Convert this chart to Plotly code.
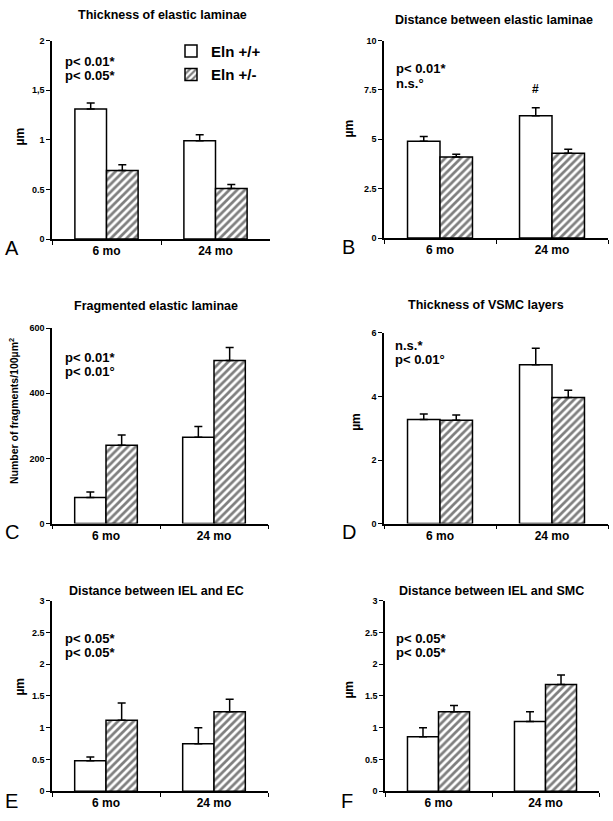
import plotly.graph_objects as go

W, H = 613, 821

categories = ["6 mo", "24 mo"]
series_names = ["Eln +/+", "Eln +/-"]

titles = ["Thickness of elastic laminae", "Distance between elastic laminae",
          "Fragmented elastic laminae", "Thickness of VSMC layers",
          "Distance between IEL and EC", "Distance between IEL and SMC"]
letters = ["A", "B", "C", "D", "E", "F"]
ytitles = ["µm", "µm", "Number of fragments/100µm<sup>2</sup>", "µm", "µm", "µm"]

# values [6 mo, 24 mo]
wt_A = [1.31, 0.99];  het_A = [0.69, 0.51]
wt_A_err = [0.06, 0.06];  het_A_err = [0.06, 0.04]
wt_B = [4.9, 6.2];  het_B = [4.1, 4.3]
wt_B_err = [0.25, 0.4];  het_B_err = [0.15, 0.2]
wt_C = [80, 265];  het_C = [240, 500]
wt_C_err = [17, 33];  het_C_err = [32, 40]
wt_D = [3.28, 5.0];  het_D = [3.25, 3.97]
wt_D_err = [0.17, 0.52];  het_D_err = [0.17, 0.23]
wt_E = [0.48, 0.75];  het_E = [1.12, 1.25]
wt_E_err = [0.06, 0.25];  het_E_err = [0.27, 0.2]
wt_F = [0.86, 1.1];  het_F = [1.25, 1.68]
wt_F_err = [0.14, 0.15];  het_F_err = [0.1, 0.15]

pvals = [("p< 0.01*", "p< 0.05*"), ("p< 0.01*", "n.s.°"), ("p< 0.01*", "p< 0.01°"),
         ("n.s.*", "p< 0.01°"), ("p< 0.05*", "p< 0.05*"), ("p< 0.05*", "p< 0.05*")]

yranges = [2, 10, 600, 6, 3, 3]
ytickvals = [[0, 0.5, 1, 1.5, 2], [0, 2.5, 5, 7.5, 10], [0, 200, 400, 600], [0, 2, 4, 6],
             [0, 0.5, 1, 1.5, 2, 2.5, 3], [0, 0.5, 1, 1.5, 2, 2.5, 3]]
yticktext = [["0", "0.5", "1", "1,5", "2"], ["0", "2.5", "5", "7.5", "10"],
             ["0", "200", "400", "600"], ["0", "2", "4", "6"],
             ["0", "0.5", "1", "1.5", "2", "2.5", "3"], ["0", "0.5", "1", "1.5", "2", "2.5", "3"]]

wt = [wt_A, wt_B, wt_C, wt_D, wt_E, wt_F]
het = [het_A, het_B, het_C, het_D, het_E, het_F]
wt_err = [wt_A_err, wt_B_err, wt_C_err, wt_D_err, wt_E_err, wt_F_err]
het_err = [het_A_err, het_B_err, het_C_err, het_D_err, het_E_err, het_F_err]

# layout in pixels: (x0, x1, ytop, ybottom)
boxes = [(52, 270, 36, 237), (384, 608, 36, 236), (52, 268, 327, 525),
         (384, 608, 332, 525), (52, 268, 603, 796), (385, 599, 603, 796)]
title_pos = [(162, 10), (494, 15), (156, 305), (486, 304), (156, 593), (491, 593)]
letter_pos = [(12, 246), (348, 245), (12, 533), (349, 533), (12, 806), (347, 806)]
ytitle_pos = [(20, 133), (349, 125), (14, 411), (356, 422), (20, 690), (349, 693)]
p_pos = [(63, 57, 71), (394, 64, 79), (63, 357, 371), (393, 345, 359), (63, 641, 655), (394, 641, 655)]

FONT = "Liberation Sans, Arial, sans-serif"

def px(x):
    return x / W

def py(y):
    return 1 - y / H

fig = go.Figure()
annotations = []
BARGAP = 0.42

for i in range(6):
    sfx = "" if i == 0 else str(i + 1)
    xa, ya = "x" + sfx, "y" + sfx
    fig.add_trace(go.Bar(
        x=categories, y=wt[i], name=series_names[0], xaxis=xa, yaxis=ya,
        marker=dict(color="white", line=dict(color="black", width=1.5)),
        error_y=dict(type="data", array=wt_err[i], arrayminus=[0, 0], symmetric=False,
                     color="black", thickness=1.5, width=4),
        showlegend=(i == 0), legendgroup="wt"))
    fig.add_trace(go.Bar(
        x=categories, y=het[i], name=series_names[1], xaxis=xa, yaxis=ya,
        marker=dict(color="white", line=dict(color="black", width=1.5),
                    pattern=dict(shape="/", fgcolor="black", bgcolor="white",
                                 size=5.5, solidity=0.5)),
        error_y=dict(type="data", array=het_err[i], arrayminus=[0, 0], symmetric=False,
                     color="black", thickness=1.5, width=4),
        showlegend=(i == 0), legendgroup="het"))

    x0, x1, yt, yb = boxes[i]
    fig.update_layout(**{
        "xaxis" + sfx: dict(domain=[px(x0), px(x1)], anchor=ya, type="category",
                            range=[-0.5, 1.5], showline=True, linecolor="black", linewidth=1.5,
                            ticks="outside", tickson="boundaries", ticklen=4,
                            tickcolor="black", showgrid=False,
                            tickfont=dict(family=FONT, size=12, color="black", weight="bold")),
        "yaxis" + sfx: dict(domain=[py(yb), py(yt)], anchor=xa, range=[0, yranges[i]],
                            showline=True, linecolor="black", linewidth=1.5,
                            ticks="outside", ticklen=4, tickcolor="black",
                            tickvals=ytickvals[i], ticktext=yticktext[i],
                            showgrid=False, zeroline=False,
                            tickfont=dict(family=FONT, size=9, color="black", weight="bold")),
    })

    tx, ty = title_pos[i]
    annotations.append(dict(text=titles[i], x=px(tx), y=py(ty), xref="paper", yref="paper",
                            showarrow=False, xanchor="center", yanchor="middle",
                            font=dict(family=FONT, size=12.5, color="black", weight="bold")))
    lx, ly = letter_pos[i]
    annotations.append(dict(text=letters[i], x=px(lx), y=py(ly), xref="paper", yref="paper",
                            showarrow=False, xanchor="center", yanchor="middle",
                            font=dict(family=FONT, size=20, color="black")))
    yx, yy = ytitle_pos[i]
    annotations.append(dict(text=ytitles[i], x=px(yx), y=py(yy), xref="paper", yref="paper",
                            showarrow=False, xanchor="center", yanchor="middle", textangle=-90,
                            font=dict(family=FONT, size=12 if i != 2 else 10.5,
                                      color="black", weight="bold")))
    pxx, py1, py2 = p_pos[i]
    for txt, yy2 in ((pvals[i][0], py1), (pvals[i][1], py2)):
        annotations.append(dict(text=txt, x=px(pxx), y=py(yy2), xref="paper", yref="paper",
                                showarrow=False, xanchor="left", yanchor="middle",
                                font=dict(family=FONT, size=13, color="black", weight="bold")))

# '#' marker above the 24 mo wild-type bar in panel B
annotations.append(dict(text="#", x=1 - (1 - BARGAP) / 4, y=wt_B[1] + wt_B_err[1] + 0.5,
                        xref="x2", yref="y2", showarrow=False, yanchor="bottom",
                        font=dict(family=FONT, size=12, color="black", weight="bold")))

fig.update_layout(
    width=W, height=H, margin=dict(l=0, r=0, t=0, b=0),
    paper_bgcolor="white", plot_bgcolor="white",
    barmode="group", bargap=BARGAP, bargroupgap=0,
    annotations=annotations,
    legend=dict(x=px(171), y=py(30), xanchor="left", yanchor="top",
                font=dict(family=FONT, size=15, color="black", weight="bold"),
                bgcolor="rgba(0,0,0,0)", itemwidth=30, tracegroupgap=1),
)

fig.write_html("out.html", config={"displayModeBar": False},
               post_script="document.body.style.margin='0';document.body.style.overflow='hidden';")
